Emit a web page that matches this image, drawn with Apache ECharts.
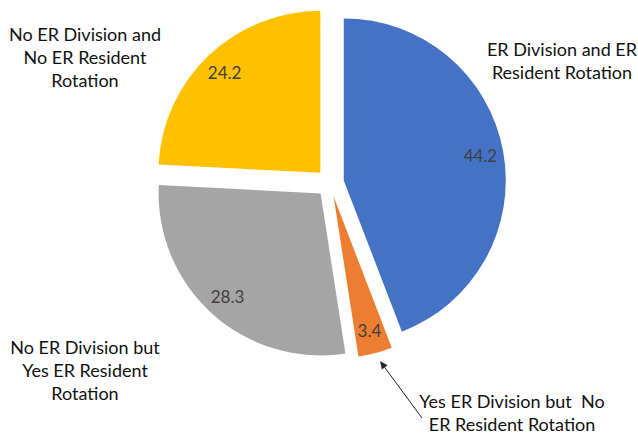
<!DOCTYPE html>
<html lang="en">
<head>
<meta charset="utf-8">
<script src="https://cdn.jsdelivr.net/npm/echarts@6/dist/echarts.min.js"></script>
<style>
    html, body { margin: 0; background: #fff; }
    #main { width: 638px; height: 436px; }
</style>
</head>
<body>
<div id="main"></div>
<script>
    // slices, clockwise from 12 o'clock
    var names = [
        'ER Division and ER\nResident Rotation',
        'Yes ER Division but  No\nER Resident Rotation',
        'No ER Division but\nYes ER Resident\nRotation',
        'No ER Division and\nNo ER Resident\nRotation'
    ];
    var values = [44.2, 3.4, 28.3, 24.2];
    var colors = ['#4472C4', '#ED7D31', '#A5A5A5', '#FFC000'];

    // centres of the category text blocks
    var labelX = [562, 512, 85, 85];
    var labelY = [60, 412, 370, 57];

    var slices = [], valueSlices = [];
    for (var i = 0; i < values.length; i++) {
        slices.push({ name: names[i], value: values[i], selected: true, itemStyle: { color: colors[i] } });
        valueSlices.push({ name: names[i], value: values[i], selected: true });
    }

    // category names as free text, arrow for the small slice
    var graphics = [];
    for (var j = 0; j < names.length; j++) {
        graphics.push({
            type: 'text',
            style: {
                text: names[j],
                x: labelX[j],
                y: labelY[j],
                align: 'center',
                verticalAlign: 'middle',
                fontFamily: 'Lato',
                fontSize: 18,
                lineHeight: 23,
                fill: '#111'
            }
        });
    }
    graphics.push({
        type: 'line',
        shape: { x1: 422, y1: 418, x2: 384.7, y2: 367.4 },
        style: { stroke: '#222', lineWidth: 1 }
    }, {
        type: 'polygon',
        shape: { points: [[380, 361], [387.5, 365.3], [381.9, 369.5]] },
        style: { fill: '#222' }
    });

    var myChart = echarts.init(document.getElementById('main'), null, { renderer: 'svg' });
    myChart.setOption({
        animation: false,
        backgroundColor: '#fff',
        series: [{
            type: 'pie',
            center: [330, 183],
            radius: 162,
            startAngle: 90,
            selectedMode: 'multiple',
            selectedOffset: 14,
            label: { show: false },
            labelLine: { show: false },
            emphasis: { disabled: true },
            data: slices
        }, {
            // same slices, hollow, only to put the values near the rim
            type: 'pie',
            center: [330, 183],
            radius: [110, 162],
            startAngle: 90,
            selectedMode: 'multiple',
            selectedOffset: 14,
            silent: true,
            z: 3,
            itemStyle: { color: 'rgba(0,0,0,0)' },
            label: {
                show: true,
                position: 'inside',
                formatter: '{c}',
                fontFamily: 'Lato',
                fontSize: 17,
                color: '#404040'
            },
            labelLine: { show: false },
            emphasis: { disabled: true },
            data: valueSlices
        }],
        graphic: graphics
    });
</script>
</body>
</html>
